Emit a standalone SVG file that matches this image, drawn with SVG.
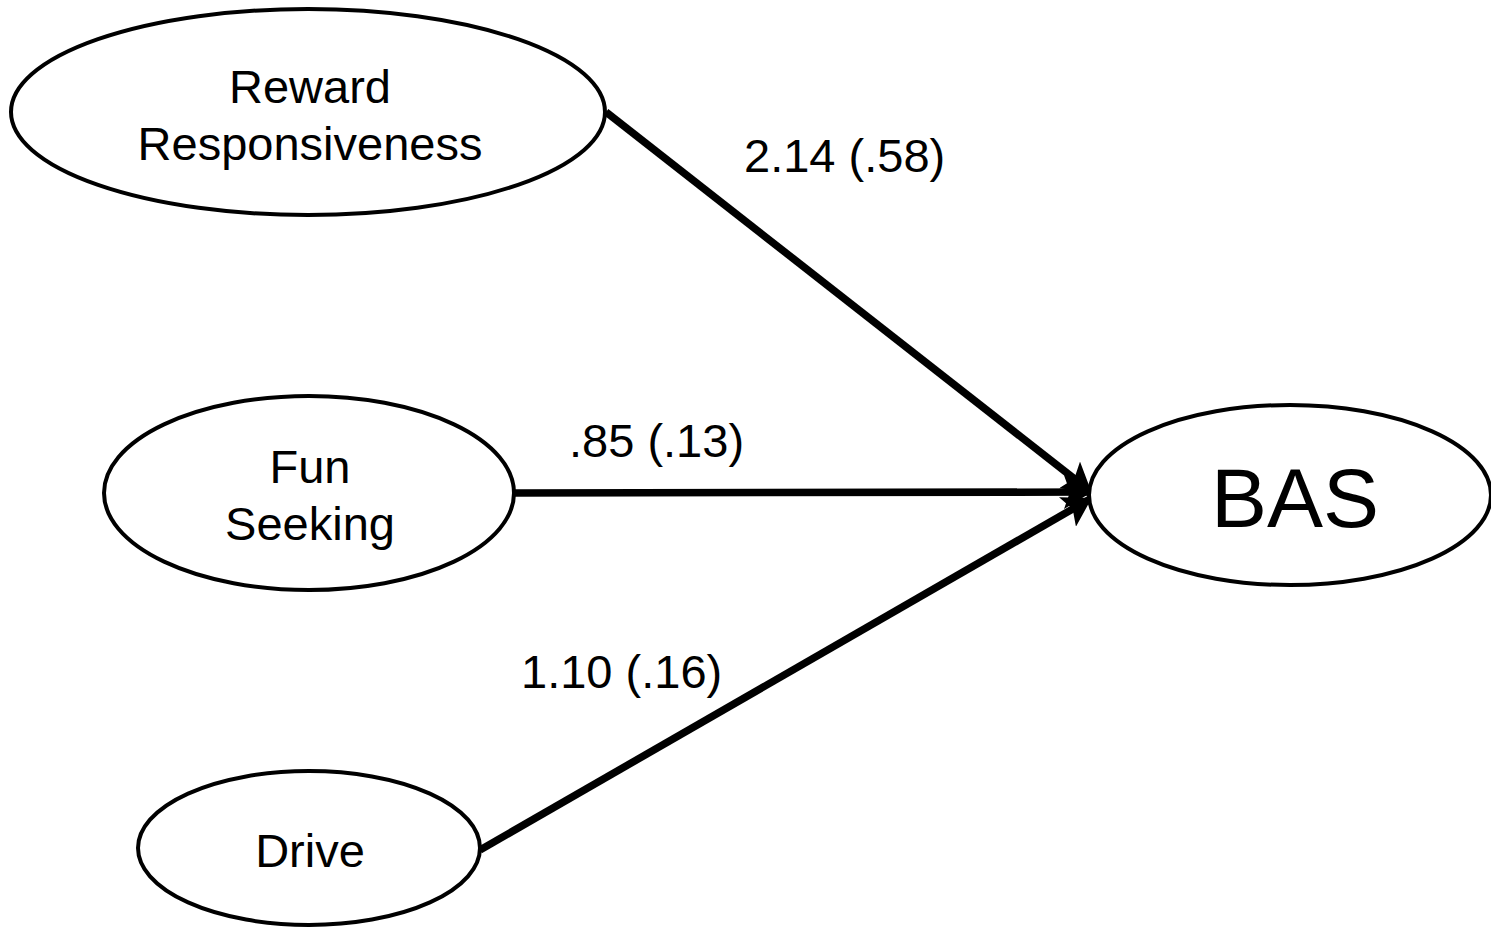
<svg xmlns="http://www.w3.org/2000/svg" width="1491" height="927" viewBox="0 0 1491 927">
  <style>
    .node ellipse { fill: #ffffff; stroke: #000000; stroke-width: 4; }
    .lbl { font-family: "Liberation Sans", Arial, sans-serif; font-size: 47px; fill: #000000; text-anchor: middle; }
    .big { font-size: 84px; }
    .coef { font-family: "Liberation Sans", Arial, sans-serif; font-size: 47px; fill: #000000; }
    .path { stroke: #000000; stroke-width: 7.5; fill: none; marker-end: url(#head); }
  </style>
  <defs>
    <marker id="head" markerUnits="userSpaceOnUse" markerWidth="30" markerHeight="34" refX="26" refY="17" orient="auto">
      <path d="M0,0 L28,17 L0,34 L6,17 Z" fill="#000000"/>
    </marker>
  </defs>

  <!-- paths into BAS -->
  <g id="connectors">
    <line class="path" x1="606" y1="112" x2="1090" y2="491"/>
    <line class="path" x1="514" y1="493" x2="1090" y2="492"/>
    <line class="path" x1="480" y1="850" x2="1090" y2="499"/>
    <text class="coef" x="744" y="172">2.14 (.58)</text>
    <text class="coef" x="569" y="457">.85 (.13)</text>
    <text class="coef" x="521" y="688">1.10 (.16)</text>
  </g>

  <g id="reward" class="node">
    <ellipse cx="308" cy="112" rx="297" ry="103"/>
    <text class="lbl" x="310" y="103">Reward</text>
    <text class="lbl" x="310" y="160">Responsiveness</text>
  </g>

  <g id="fun" class="node">
    <ellipse cx="309" cy="493" rx="205" ry="97"/>
    <text class="lbl" x="310" y="483">Fun</text>
    <text class="lbl" x="310" y="540">Seeking</text>
  </g>

  <g id="drive" class="node">
    <ellipse cx="309" cy="848" rx="171" ry="77"/>
    <text class="lbl" x="310" y="867">Drive</text>
  </g>

  <g id="bas" class="node">
    <ellipse cx="1290" cy="495" rx="201" ry="90"/>
    <text class="lbl big" x="1295" y="527">BAS</text>
  </g>
</svg>
